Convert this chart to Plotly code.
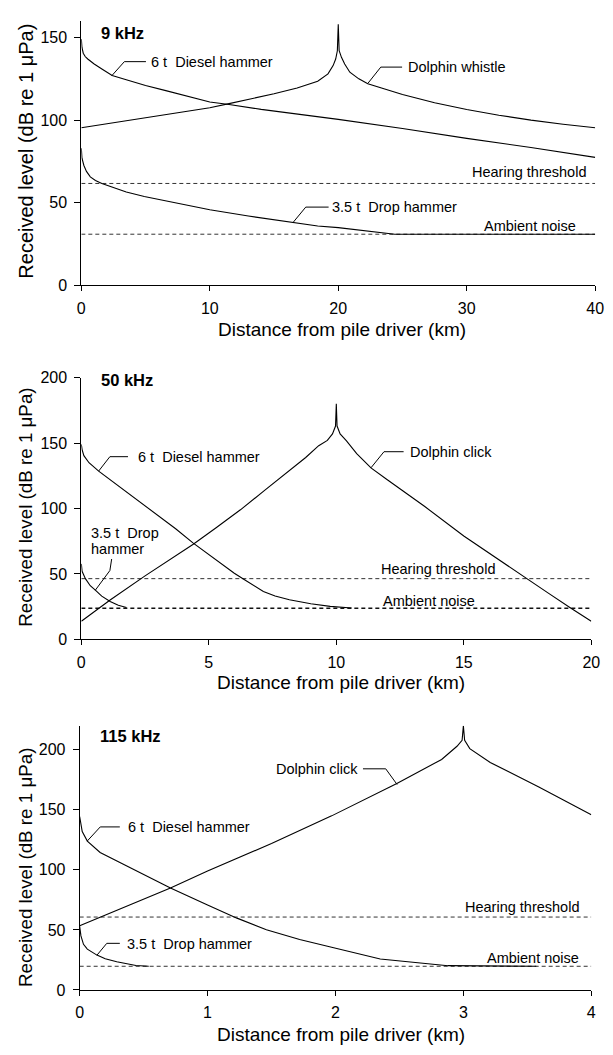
import plotly.graph_objects as go

# ---------------- data ----------------
# Panel A: 9 kHz
diesel9_km = [0, 0.05, 0.15, 0.3, 0.5, 1, 1.6, 2.4, 3.5, 5, 6.5, 8, 10, 11.5, 14, 17, 20, 25, 30, 35, 40]
diesel9_db = [149, 144, 140.5, 138.5, 137, 134, 131, 127, 124.5, 121, 118, 115, 111, 109.5, 106.5, 103.5, 100.5, 95, 89, 83.5, 77.5]
whistle9_km = [0, 2.4, 5, 8, 10, 11.5, 13, 15, 16.8, 18.4, 19.2, 19.6, 19.8, 19.93, 20, 20.07, 20.25, 20.5, 20.9, 21.6, 22.3, 25, 27.5, 30, 32.5, 35, 37.5, 40]
whistle9_db = [95.4, 98.4, 101.5, 105, 107.5, 110, 112.5, 116, 119.5, 123.5, 128, 133, 137, 142, 158, 142, 138, 134, 129, 125, 122, 115.5, 110.5, 106.5, 103, 100, 97.5, 95.4]
drop9_km = [0, 0.05, 0.2, 0.4, 0.7, 1.1, 1.6, 2.4, 3.5, 4.9, 7.5, 10, 13, 16.45, 18.4, 20, 22, 24.4, 40]
drop9_db = [83, 77, 72.6, 69, 65.7, 63.5, 61.7, 59.5, 56.5, 53.8, 49.5, 45.8, 42, 37.9, 36, 35, 33, 31, 31]
hearing9_db = 61.7
ambient9_db = 31

# Panel B: 50 kHz
diesel50_km = [0, 0.03, 0.1, 0.3, 0.68, 1.2, 1.77, 2.4, 3.04, 3.7, 4.39, 5.35, 6.0, 6.37, 6.8, 7.14, 7.6, 8.16, 9.0, 9.76, 10.6]
diesel50_db = [149, 145, 140.4, 135, 128.6, 121, 112.8, 104, 94.5, 84.5, 73.5, 59.5, 50.5, 45.9, 40.5, 36.6, 33.2, 30.3, 27.2, 25.2, 24]
click50_km = [0, 1.13, 2.5, 4.39, 5.3, 6.24, 7.2, 8.16, 8.8, 9.31, 9.65, 9.85, 9.97, 10, 10.03, 10.15, 10.4, 10.8, 11.36, 12, 13.47, 15, 16.2, 17.43, 18.3, 19.16, 20]
click50_db = [13.8, 30.1, 48.5, 72.7, 85.5, 99, 114, 129, 139, 148, 152, 157, 163, 180, 163, 157, 151.6, 142, 131, 122, 101.5, 79, 63, 47, 35.5, 24.3, 13.8]
drop50_km = [0, 0.03, 0.16, 0.35, 0.55, 0.8, 1.13, 1.45, 1.77]
drop50_db = [57.7, 52, 46.4, 41, 37.6, 33, 28.9, 26, 24.3]
hearing50_db = 46.4
ambient50_db = 23.8

# Panel C: 115 kHz
diesel115_km = [0, 0.02, 0.06, 0.16, 0.365, 0.5, 0.71, 1.0, 1.23, 1.46, 1.72, 1.97, 2.35, 2.88, 3.2, 3.57]
diesel115_db = [144.5, 132, 124, 114.5, 103.5, 96.5, 85, 70.7, 59.8, 50.2, 42, 35.5, 25.7, 20.2, 19.9, 19.7]
click115_km = [0, 0.35, 0.71, 1.0, 1.5, 1.97, 2.48, 2.83, 2.95, 2.99, 3.0, 3.01, 3.05, 3.21, 3.59, 4.0]
click115_db = [53.5, 69, 85, 99, 122, 145, 172, 192, 203, 208, 220, 208, 201, 189.5, 169, 146]
drop115_km = [0, 0.01, 0.03, 0.06, 0.135, 0.2, 0.29, 0.44, 0.54]
drop115_db = [53, 45, 38, 34, 29, 26, 23.5, 20.3, 19.7]
hearing115_db = 60.7
ambient115_db = 19.7

x_ranges = [[0, 40], [0, 20], [0, 4]]
y_ranges = [[0, 160], [0, 200], [0, 220]]
x_ticks = [[0, 10, 20, 30, 40], [0, 5, 10, 15, 20], [0, 1, 2, 3, 4]]
y_ticks = [[0, 50, 100, 150], [0, 50, 100, 150, 200], [0, 50, 100, 150, 200]]
panel_titles = ["9 kHz", "50 kHz", "115 kHz"]
x_title = "Distance from pile driver (km)"
y_title = "Received level (dB re 1 \u03bcPa)"

# ---------------- layout geometry (pixels) ----------------
W, H = 613, 1055
FONT = "Arial, 'Liberation Sans', sans-serif"
# (left, right, top, bottom) of each plot area in pixels
areas = [(79, 604, 13.2, 282), (79, 600, 375.7, 641.7), (77.3, 600, 729.6, 998)]

fig = go.Figure()

def px_to_paper_x(p):
    return p / W

def px_to_paper_y(p):
    return 1 - p / H

solid = dict(color="black", width=1.1)
dashed_hear = dict(color="#333333", width=1, dash="4px,3px")
dashed_amb = [dict(color="#333333", width=1, dash="4px,3px"),
              dict(color="#111111", width=1.4, dash="4px,3px"),
              dict(color="#333333", width=1, dash="4px,3px")]

series = [
    [(diesel9_km, diesel9_db), (whistle9_km, whistle9_db), (drop9_km, drop9_db)],
    [(diesel50_km, diesel50_db), (click50_km, click50_db), (drop50_km, drop50_db)],
    [(diesel115_km, diesel115_db), (click115_km, click115_db), (drop115_km, drop115_db)],
]
levels = [(hearing9_db, ambient9_db), (hearing50_db, ambient50_db), (hearing115_db, ambient115_db)]

for i in range(3):
    sx = "" if i == 0 else str(i + 1)
    xa, ya = "x" + sx, "y" + sx
    hear, amb = levels[i]
    fig.add_trace(go.Scatter(x=x_ranges[i], y=[hear, hear], mode="lines", line=dashed_hear,
                             xaxis=xa, yaxis=ya, showlegend=False, hoverinfo="skip"))
    fig.add_trace(go.Scatter(x=x_ranges[i], y=[amb, amb], mode="lines", line=dashed_amb[i],
                             xaxis=xa, yaxis=ya, showlegend=False, hoverinfo="skip"))
    for xs, ys in series[i]:
        fig.add_trace(go.Scatter(x=xs, y=ys, mode="lines", line=solid,
                                 xaxis=xa, yaxis=ya, showlegend=False))

layout = dict(width=W, height=H, margin=dict(l=0, r=0, t=0, b=0),
              paper_bgcolor="white", plot_bgcolor="white", showlegend=False,
              font=dict(family=FONT, color="black"))

axis_common = dict(showline=True, linecolor="black", linewidth=1, ticks="outside",
                   ticklen=5, tickwidth=1, tickcolor="black", showgrid=False,
                   zeroline=False, tickfont=dict(family=FONT, size=16, color="black"),
                   ticklabeloverflow="allow")

for i, (l, r, t, b) in enumerate(areas):
    sx = "" if i == 0 else str(i + 1)
    layout["xaxis" + sx] = dict(axis_common, domain=[px_to_paper_x(l), px_to_paper_x(r)],
                                range=x_ranges[i], tickvals=x_ticks[i], anchor="y" + sx,
                                ticklabelstandoff=3)
    layout["yaxis" + sx] = dict(axis_common, domain=[px_to_paper_y(b), px_to_paper_y(t)],
                                range=y_ranges[i], tickvals=y_ticks[i], anchor="x" + sx,
                                ticklen=6, ticklabelstandoff=4)

fig.update_layout(**layout)

# ---------------- labels & leader lines ----------------
lab = dict(family=FONT, size=14.5, color="black")
ann = []
shapes = []

def text(i, x, y, s, anchor="left", font=lab):
    sx = "" if i == 0 else str(i + 1)
    ann.append(dict(xref="x" + sx, yref="y" + sx, x=x, y=y, text=s, showarrow=False,
                    xanchor=anchor, yanchor="middle", font=font))

def leader(i, pts):
    sx = "" if i == 0 else str(i + 1)
    path = "M " + " L ".join(f"{px},{py}" for px, py in pts)
    shapes.append(dict(type="path", xref="x" + sx, yref="y" + sx, path=path,
                       line=dict(color="black", width=1)))

NB = "\u00a0"
title_font = dict(family=FONT, size=16.5, color="black")
# Panel A
text(0, 1.37, 153, "<b>" + panel_titles[0] + "</b>", font=title_font)
leader(0, [(2.36, 126.8), (3.35, 135.4), (5.03, 135.4)])
text(0, 5.26, 135.2, "6 t" + NB + " Diesel hammer")
leader(0, [(22.3, 122.2), (23.31, 132.1), (24.97, 132.1)])
text(0, 25.3, 132.1, "Dolphin whistle")
leader(0, [(16.46, 37.9), (17.47, 47.4), (19.25, 47.4)])
text(0, 19.35, 47.5, "3.5 t" + NB + " Drop hammer")
text(0, 39.47, 68.5, "Hearing threshold", anchor="right")
text(0, 38.63, 35.7, "Ambient noise", anchor="right")

# Panel B
text(1, 0.69, 198.3, "<b>" + panel_titles[1] + "</b>", font=title_font)
leader(1, [(0.68, 128.6), (1.12, 139.6), (1.83, 139.6)])
text(1, 2.15, 139.1, "6 t" + NB + " Diesel hammer")
leader(1, [(0.55, 37.6), (1.12, 52.6), (1.19, 61.4)])
text(1, 0.30, 81.5, "3.5 t" + NB + " Drop")
text(1, 0.30, 68.9, "hammer")
leader(1, [(11.36, 131.1), (11.87, 143.4), (12.64, 143.4)])
text(1, 12.83, 143.4, "Dolphin click")
text(1, 16.29, 53.9, "Hearing threshold", anchor="right")
text(1, 15.52, 29.6, "Ambient noise", anchor="right")

# Panel C
text(2, 0.143, 211.5, "<b>" + panel_titles[2] + "</b>", font=title_font)
leader(2, [(0.059, 124), (0.161, 135.8), (0.314, 135.8)])
text(2, 0.36, 135.5, "6 t" + NB + " Diesel hammer")
leader(2, [(0.135, 28.9), (0.212, 38.8), (0.314, 38.8)])
text(2, 0.352, 38, "3.5 t" + NB + " Drop hammer")
leader(2, [(2.215, 184.2), (2.393, 184.2), (2.482, 171.1)])
text(2, 2.189, 184.2, "Dolphin click", anchor="right")
text(2, 3.918, 69.4, "Hearing threshold", anchor="right")
text(2, 3.918, 26.2, "Ambient noise", anchor="right")

# axis titles (paper coords from pixel positions)
xt_pos = [(345.5, 327), (344, 686), (344, 1043)]
yt_pos = [(22.5, 146, 20), (22.5, 508, 18.8), (22.5, 874, 18.8)]
for (xp, yp) in xt_pos:
    ann.append(dict(xref="paper", yref="paper", x=px_to_paper_x(xp), y=px_to_paper_y(yp),
                    text=x_title, showarrow=False, xanchor="center", yanchor="middle",
                    font=dict(family=FONT, size=19, color="black")))
for (xp, yp, fs) in yt_pos:
    ann.append(dict(xref="paper", yref="paper", x=px_to_paper_x(xp), y=px_to_paper_y(yp),
                    text=y_title, showarrow=False, xanchor="center", yanchor="middle",
                    textangle=-90, font=dict(family=FONT, size=fs, color="black")))

fig.update_layout(annotations=ann, shapes=shapes)
fig.write_html("out.html", config={"displayModeBar": False},
               post_script="document.body.style.margin='0px';document.body.style.overflow='hidden';")
